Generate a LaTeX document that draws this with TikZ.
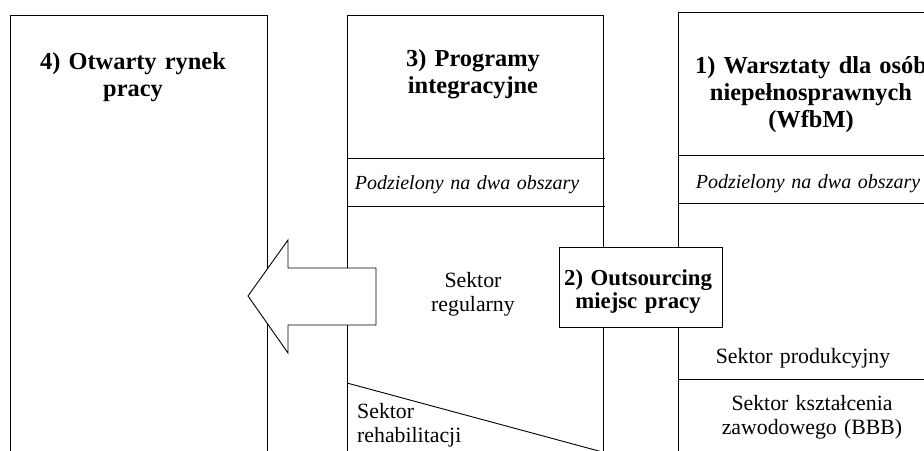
\documentclass[tikz,border=0pt]{standalone}
\usepackage{fontspec}
\setmainfont{Liberation Serif}
\begin{document}
\begin{tikzpicture}[x=1pt,y=-1pt,
  frame/.style={draw=black,line width=0.9pt},
  whitefill/.style={draw=black,line width=0.9pt,fill=white},
  titletext/.style={anchor=base,align=center,inner sep=0pt,text width=#1,font=\fontsize{24.4}{27}\selectfont\bfseries},
  outtext/.style={anchor=base,align=center,inner sep=0pt,text width=160pt,font=\fontsize{22.8}{23}\selectfont\bfseries},
  itext/.style={anchor=base,align=center,inner sep=0pt,text width=250pt,font=\fontsize{20}{23.5}\selectfont\itshape},
  plaintext/.style={anchor=base,align=center,inner sep=0pt,text width=#1,font=\fontsize{21.8}{24}\selectfont},
  lefttext/.style={anchor=base west,align=left,inner sep=0pt,text width=200pt,font=\fontsize{21.8}{24}\selectfont}
]
\useasboundingbox (0,0) rectangle (924,450);
\clip (0,0) rectangle (924,450);

% box 4
\draw[frame] (10,460) -- (10,15) -- (267,15) -- (267,460);
\node[titletext=240pt] (t4) at (133,69) {4) Otwarty rynek\\pracy};

% box 3
\draw[frame] (347,460) -- (347,15) -- (603,15) -- (603,460);
\draw[frame] (347,158) -- (605,158);
\draw[frame] (347,206) -- (605,206);
\draw[frame] (347,383) -- (621,457);
\node[titletext=240pt] (t3) at (473,66) {3) Programy\\integracyjne};
\node[itext] (i3) at (467,189) {Podzielony na dwa obszary};
\node[plaintext=200pt] (sr) at (473,287) {Sektor\\regularny};
\node[lefttext] (sreh) at (357,418) {Sektor\\rehabilitacji};

% box 1
\draw[frame] (678,460) -- (678,12) -- (950,12);
\draw[frame] (678,155) -- (950,155);
\draw[frame] (678,203) -- (950,203);
\draw[frame] (678,379) -- (950,379);
\node[titletext=270pt] (t1) at (811,73) {1) Warsztaty dla osób\\niepełnosprawnych\\(WfbM)};
\node[itext] (i1) at (808,188) {Podzielony na dwa obszary};
\node[plaintext=240pt] (sp) at (803,363) {Sektor produkcyjny};
\node[plaintext=240pt] (sk) at (812,410) {Sektor kształcenia\\zawodowego (BBB)};

% arrow
\draw[whitefill] (248,296) -- (288,240) -- (288,268) -- (376,268) -- (376,325) -- (288,325) -- (288,353) -- cycle;

% outsourcing box
\draw[whitefill] (559,247) rectangle (722,327);
\node[outtext] (out) at (638,285) {2) Outsourcing\\miejsc pracy};
\end{tikzpicture}
\end{document}
